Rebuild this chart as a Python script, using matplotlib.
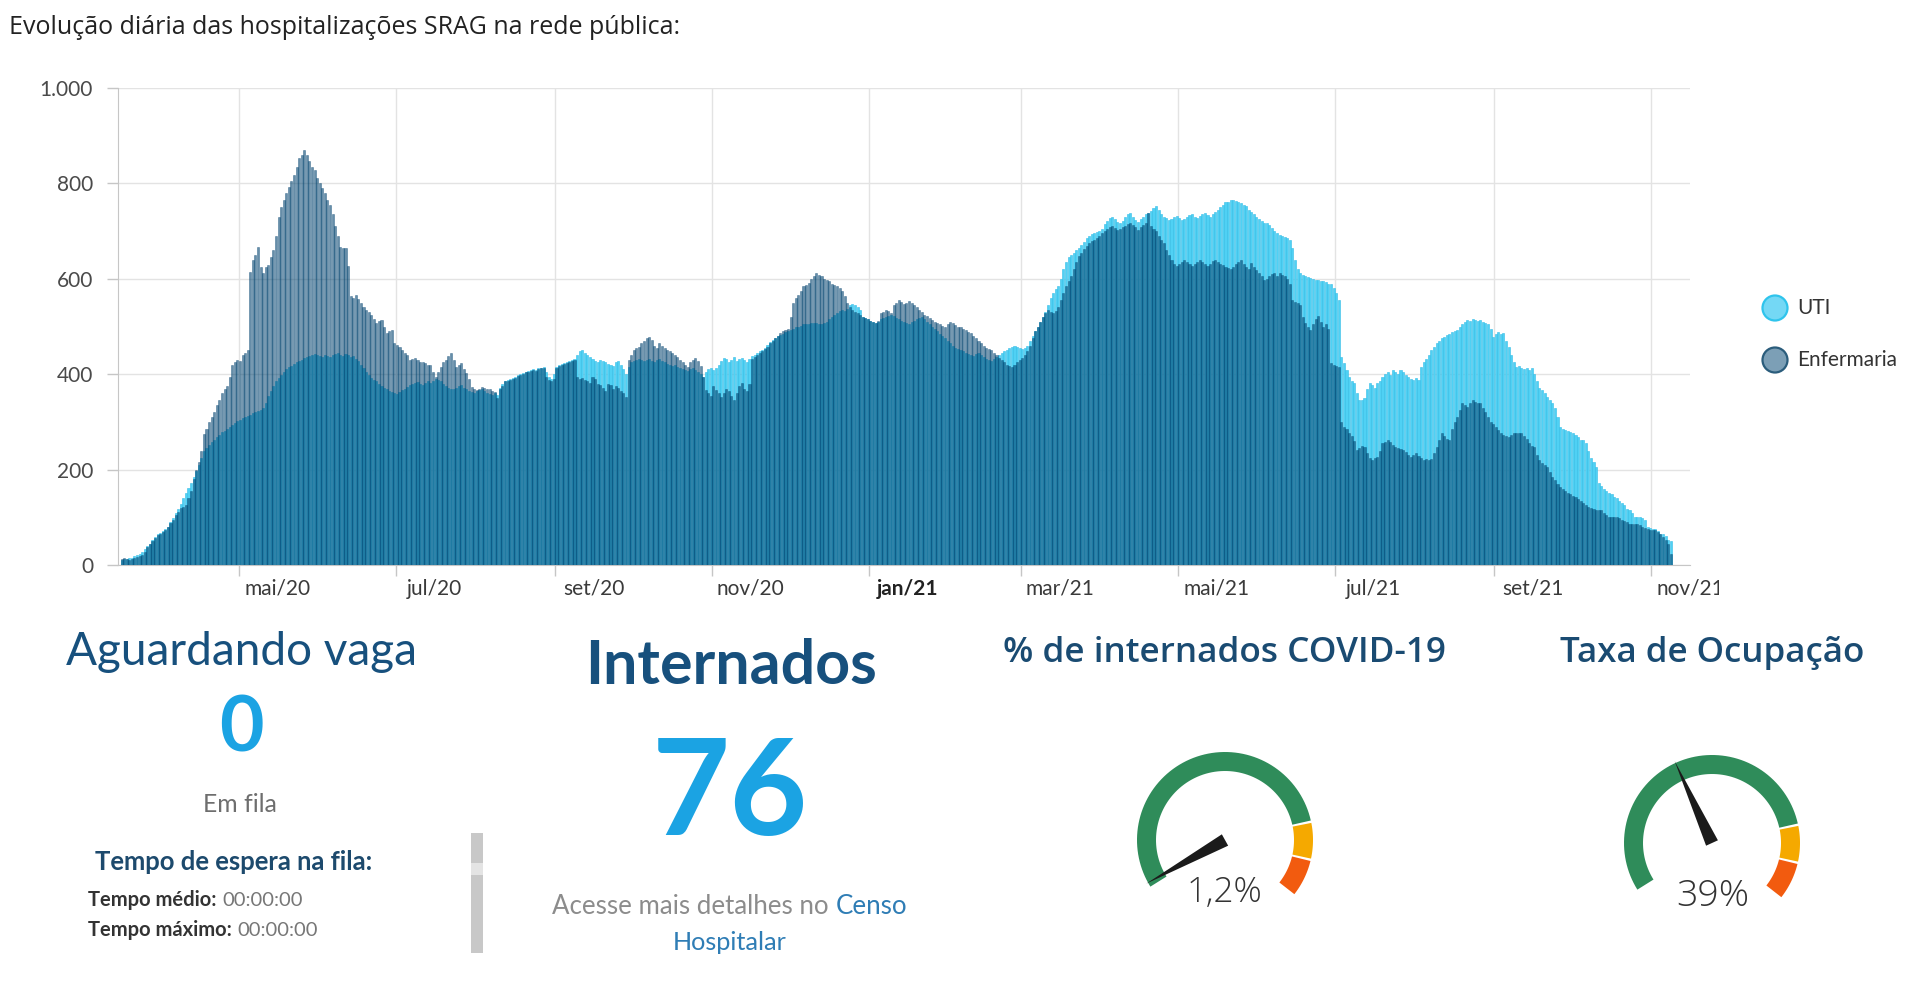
import numpy as np
import pandas as pd
import matplotlib
matplotlib.use("Agg")
import matplotlib.pyplot as plt
import matplotlib.dates as mdates
from matplotlib.patches import Polygon, Circle, Rectangle
from matplotlib.ticker import FixedLocator, FuncFormatter, NullFormatter

# daily beds in use, starting 2020-03-16
start_date = '2020-03-16'
uti = [
    10, 12, 12, 14, 15, 18, 20, 24, 28, 34,
    40, 45, 52, 58, 64, 68, 72, 76, 80, 90,
    98, 108, 118, 128, 140, 150, 162, 172, 185, 198,
    210, 225, 238, 246, 252, 258, 262, 268, 272, 278,
    280, 285, 290, 294, 298, 302, 305, 308, 310, 312,
    315, 318, 320, 322, 325, 330, 340, 355, 365, 375,
    385, 392, 398, 405, 410, 415, 418, 422, 425, 428,
    430, 433, 436, 438, 440, 442, 440, 438, 436, 440,
    438, 436, 440, 442, 445, 440, 438, 442, 440, 436,
    438, 432, 428, 420, 412, 405, 398, 392, 388, 385,
    380, 376, 372, 368, 365, 362, 360, 358, 362, 366,
    370, 374, 378, 380, 382, 384, 380, 378, 382, 385,
    382, 386, 390, 388, 385, 380, 376, 372, 370, 368,
    372, 375, 378, 372, 368, 365, 362, 360, 364, 366,
    368, 365, 360, 358, 356, 360, 356, 372, 380, 386,
    388, 390, 392, 395, 398, 400, 402, 405, 406, 408,
    410, 408, 412, 414, 416, 405, 395, 390, 400, 415,
    420, 422, 424, 425, 428, 430, 432, 440, 448, 450,
    445, 440, 436, 432, 428, 425, 430, 428, 425, 422,
    420, 418, 425, 428, 420, 410, 400, 415, 425, 428,
    430, 432, 430, 428, 430, 432, 428, 425, 430, 432,
    428, 425, 422, 420, 418, 420, 416, 412, 410, 408,
    406, 410, 412, 408, 405, 400, 395, 405, 410, 412,
    408, 412, 420, 428, 435, 432, 425, 430, 436, 428,
    432, 435, 430, 425, 432, 438, 440, 445, 448, 450,
    455, 462, 468, 472, 476, 480, 482, 485, 488, 490,
    492, 495, 498, 500, 502, 505, 506, 505, 507, 508,
    507, 505, 506, 508, 510, 515, 520, 525, 528, 532,
    534, 532, 536, 545, 548, 545, 540, 535, 520, 518,
    515, 512, 510, 508, 510, 515, 518, 520, 522, 525,
    522, 518, 515, 512, 510, 508, 506, 510, 512, 515,
    518, 520, 515, 510, 505, 500, 495, 490, 485, 480,
    475, 470, 465, 460, 455, 452, 450, 448, 445, 442,
    440, 438, 442, 445, 440, 436, 432, 430, 428, 432,
    436, 440, 445, 448, 450, 455, 458, 460, 458, 455,
    452, 455, 460, 470, 480, 490, 500, 510, 520, 530,
    545, 560, 570, 578, 585, 600, 620, 635, 645, 650,
    655, 660, 665, 670, 678, 685, 690, 694, 696, 698,
    700, 705, 715, 722, 728, 730, 725, 720, 718, 722,
    730, 735, 738, 730, 724, 720, 726, 730, 735, 738,
    742, 748, 752, 745, 735, 730, 728, 724, 726, 730,
    732, 728, 724, 726, 730, 734, 736, 730, 728, 732,
    735, 738, 734, 730, 735, 740, 745, 750, 755, 760,
    762, 765, 766, 764, 760, 758, 755, 752, 745, 740,
    735, 730, 726, 722, 718, 716, 712, 706, 700, 695,
    692, 690, 688, 685, 682, 665, 640, 620, 612, 608,
    605, 604, 602, 600, 598, 598, 596, 595, 594, 590,
    590, 580, 570, 556, 437, 423, 409, 395, 385, 381,
    360, 346, 346, 350, 370, 381, 378, 372, 381, 385,
    395, 400, 405, 398, 409, 405, 400, 409, 405, 398,
    395, 390, 388, 392, 388, 416, 425, 432, 440, 451,
    458, 465, 470, 475, 479, 482, 485, 488, 490, 493,
    500, 505, 510, 514, 512, 515, 514, 512, 514, 510,
    508, 505, 495, 479, 485, 488, 484, 486, 470, 458,
    440, 425, 416, 418, 412, 410, 414, 409, 412, 400,
    385, 372, 367, 360, 352, 345, 339, 330, 310, 290,
    285, 282, 280, 278, 276, 272, 268, 262, 262, 255,
    240, 225, 215, 206, 171, 165, 160, 155, 150, 148,
    143, 140, 135, 130, 125, 118, 115, 108, 101, 101,
    100, 98, 95, 80, 78, 76, 75, 72, 66, 64,
    60, 52, 50,
]
enfermaria = [
    12, 14, 12, 10, 12, 14, 16, 18, 22, 28,
    38, 44, 50, 56, 62, 66, 70, 74, 80, 88,
    95, 104, 112, 120, 122, 126, 140, 155, 180, 200,
    215, 240, 275, 285, 300, 310, 320, 335, 345, 360,
    368, 375, 395, 420, 425, 430, 428, 440, 445, 450,
    615, 640, 650, 667, 625, 612, 625, 629, 645, 660,
    690, 730, 750, 765, 780, 793, 805, 818, 835, 853,
    860, 870, 860, 846, 835, 828, 812, 800, 790, 779,
    765, 755, 735, 710, 690, 667, 665, 664, 626, 563,
    560, 566, 558, 549, 540, 535, 530, 524, 515, 507,
    512, 514, 500, 486, 490, 493, 465, 462, 458, 450,
    444, 440, 430, 432, 433, 430, 426, 425, 423, 420,
    419, 405, 395, 405, 416, 425, 430, 438, 444, 430,
    416, 420, 423, 410, 402, 390, 374, 370, 367, 370,
    374, 372, 370, 368, 365, 362, 350, 368, 375, 385,
    386, 388, 390, 392, 396, 398, 400, 404, 405, 406,
    408, 406, 410, 412, 414, 395, 388, 385, 390, 412,
    418, 420, 422, 424, 426, 428, 430, 395, 390, 392,
    388, 385, 382, 395, 390, 380, 378, 372, 365, 380,
    378, 370, 375, 372, 365, 360, 353, 430, 440, 450,
    455, 458, 465, 470, 475, 479, 472, 460, 455, 465,
    460, 455, 451, 448, 445, 440, 437, 430, 425, 420,
    416, 425, 430, 435, 428, 418, 395, 367, 360, 355,
    375, 367, 360, 353, 360, 370, 365, 355, 346, 360,
    375, 381, 370, 365, 380, 432, 436, 440, 445, 448,
    452, 458, 465, 470, 475, 480, 486, 490, 493, 495,
    520, 549, 560, 565, 575, 584, 588, 591, 600, 605,
    612, 608, 605, 600, 598, 595, 590, 588, 584, 580,
    575, 563, 550, 540, 535, 530, 528, 525, 520, 518,
    515, 512, 510, 508, 512, 528, 530, 535, 532, 528,
    545, 550, 556, 552, 548, 550, 554, 549, 545, 540,
    535, 530, 525, 521, 518, 514, 510, 508, 505, 502,
    500, 505, 510, 508, 504, 500, 498, 495, 492, 488,
    486, 480, 475, 470, 465, 460, 455, 452, 450, 445,
    440, 435, 430, 425, 420, 418, 416, 420, 425, 430,
    435, 440, 448, 460, 475, 490, 500, 510, 520, 528,
    535, 530, 528, 532, 540, 556, 570, 585, 595, 605,
    620, 635, 647, 655, 662, 668, 675, 680, 682, 685,
    690, 695, 700, 705, 708, 710, 706, 703, 705, 708,
    710, 715, 717, 712, 708, 703, 708, 712, 716, 738,
    710, 705, 700, 690, 682, 675, 661, 650, 640, 632,
    626, 630, 635, 640, 635, 630, 626, 630, 636, 640,
    635, 630, 626, 632, 638, 640, 635, 630, 628, 625,
    622, 620, 625, 630, 635, 640, 630, 625, 620, 633,
    625, 618, 612, 605, 598, 600, 605, 610, 612, 605,
    612, 608, 605, 600, 590, 556, 552, 549, 545, 520,
    507, 500, 493, 505, 515, 521, 510, 500, 505, 495,
    423, 420, 418, 416, 300, 290, 285, 276, 270, 260,
    241, 245, 250, 248, 235, 225, 220, 224, 227, 240,
    255, 258, 262, 258, 252, 248, 245, 243, 241, 236,
    230, 227, 230, 234, 228, 224, 220, 222, 220, 222,
    235, 248, 262, 276, 270, 265, 262, 285, 300, 311,
    325, 339, 336, 332, 340, 346, 342, 340, 339, 330,
    320, 311, 300, 295, 290, 282, 276, 272, 270, 269,
    272, 276, 276, 276, 276, 270, 265, 255, 250, 248,
    230, 220, 213, 210, 206, 195, 185, 178, 170, 164,
    160, 155, 150, 148, 145, 143, 138, 135, 129, 126,
    122, 120, 118, 115, 115, 115, 110, 105, 101, 101,
    101, 100, 98, 94, 92, 90, 87, 87, 87, 86,
    84, 80, 78, 76, 73, 73, 73, 70, 65, 59,
    52, 45, 24,
]

tick_months = ['2020-05-01', '2020-07-01', '2020-09-01', '2020-11-01', '2021-01-01',
               '2021-03-01', '2021-05-01', '2021-07-01', '2021-09-01', '2021-11-01']
tick_labels = ['mai/20', 'jul/20', 'set/20', 'nov/20', 'jan/21',
               'mar/21', 'mai/21', 'jul/21', 'set/21', 'nov/21']

aguardando = 0
internados = 76
gauge_values = [1.2, 39]
gauge_labels = ['1,2%', '39%']
band_limits = [0, 80, 90, 100]

W, H = 1920, 989
fig = plt.figure(figsize=(W / 100, H / 100), dpi=100)
fig.patch.set_facecolor('white')
renderer = fig.canvas.get_renderer()

SANS = ['Open Sans', 'DejaVu Sans']
GEO = ['Lato', 'DejaVu Sans']
NAVY = '#17507d'
BRIGHT = '#1ba3e3'

# ---- bar chart
n = min(len(uti), len(enfermaria))
days = mdates.date2num(pd.date_range(start_date, periods=n)) + 0.5

ax = fig.add_axes([118 / W, 1 - 565 / H, (1690 - 118) / W, 477 / H])
ax.bar(days, uti[:n], width=0.8, color='#4fd1f4', edgecolor='#36bde6',
       linewidth=0.4, zorder=2, label='UTI')
ax.bar(days, enfermaria[:n], width=0.8, color='#00426e', alpha=0.6,
       edgecolor='#00426e', linewidth=0.4, zorder=3, label='Enfermaria')

ax.set_ylim(0, 1000)
ax.set_xlim(mdates.date2num(pd.Timestamp('2020-03-15')) + 0.1,
            mdates.date2num(pd.Timestamp('2021-11-09')) + 0.5)
ax.set_yticks(np.arange(0, 1001, 200))
ax.yaxis.set_major_formatter(FuncFormatter(lambda v, p: f'{int(v):,}'.replace(',', '.')))

major = mdates.date2num(pd.to_datetime(tick_months))
ax.xaxis.set_major_locator(FixedLocator(major))
ax.xaxis.set_major_formatter(NullFormatter())
ax.set_xticks(major + 15, tick_labels, minor=True)

ax.tick_params(axis='x', which='major', length=8, width=1, color='#c6c6c6', direction='out')
ax.tick_params(axis='x', which='minor', length=0, pad=10, labelsize=15, labelcolor='#3a3a3a')
ax.tick_params(axis='y', length=8, width=1, color='#c6c6c6', pad=10, labelsize=15, labelcolor='#4a4a4a')
for lab in ax.get_xticklabels(minor=True) + ax.get_yticklabels():
    lab.set_family(GEO)
for lab in ax.get_xticklabels(minor=True):
    if lab.get_text() == 'jan/21':
        lab.set_fontweight('bold')
        lab.set_color('#222222')

ax.grid(True, which='major', color='#e3e3e3', linewidth=1, zorder=0)
ax.set_axisbelow(True)
for side in ['top', 'right']:
    ax.spines[side].set_visible(False)
for side in ['left', 'bottom']:
    ax.spines[side].set_color('#c6c6c6')

# ---- overlay in pixel coordinates
ov = fig.add_axes([0, 0, 1, 1], zorder=5)
ov.set_xlim(0, W)
ov.set_ylim(H, 0)
ov.set_axis_off()
ov.patch.set_alpha(0)

# the dashboard panel cuts the last month label
ov.add_patch(Rectangle((1719, 572), 60, 40, facecolor='white', edgecolor='none', zorder=10))


def put(x, y, s, width=None, ha='center', va='center', size=20, **kw):
    t = ov.text(x, y, s, ha=ha, va=va, fontsize=size, **kw)
    if width:
        bb = t.get_window_extent(renderer)
        t.set_fontsize(t.get_fontsize() * width / bb.width)
    return t


def put2(x, y, s1, s2, kw1, kw2, width, center=False):
    t1 = ov.text(0, y, s1, ha='left', va='center', fontsize=20, **kw1)
    t2 = ov.text(0, y, s2, ha='left', va='center', fontsize=20, **kw2)
    gap = 0.28 * 20 * 100 / 72
    w = t1.get_window_extent(renderer).width + t2.get_window_extent(renderer).width + gap
    k = width / w
    t1.set_fontsize(20 * k)
    t2.set_fontsize(20 * k)
    x0 = x - width / 2 if center else x
    t1.set_x(x0)
    t2.set_x(x0 + t1.get_window_extent(renderer).width + gap * k)


put(9, 28, 'Evolução diária das hospitalizações SRAG na rede pública:', width=670,
    ha='left', family=SANS, color='#222222')

# legend
leg = [('UTI', '#74d8f5', '#2fc4ec', 308), ('Enfermaria', '#7c9fb6', '#2b5d7c', 360)]
for name, fc, ec, ly in leg:
    ov.add_patch(Circle((1775, ly), 12.5, facecolor=fc, edgecolor=ec, linewidth=1.6))
    ov.text(1797, ly, name, ha='left', va='center', fontsize=15, family=GEO, color='#333333')

# aguardando vaga
put(242, 652, 'Aguardando vaga', width=351, family=GEO, color=NAVY)
put(241, 730, str(aguardando), width=45, family=GEO, fontweight='bold', color=BRIGHT)
put(240, 805, 'Em fila', width=74, family=GEO, color='#6e6e6e')
put(234, 862, 'Tempo de espera na fila:', width=278, family=GEO, fontweight='bold', color='#1d4a6d')
put2(88, 900, 'Tempo médio:', '00:00:00',
     dict(family=GEO, fontweight='bold', color='#333333'), dict(family=GEO, color='#777777'), 214)
put2(88, 930, 'Tempo máximo:', '00:00:00',
     dict(family=GEO, fontweight='bold', color='#333333'), dict(family=GEO, color='#777777'), 229)
ov.add_patch(Rectangle((471, 833), 12, 30, facecolor='#c8c8c8', edgecolor='none'))
ov.add_patch(Rectangle((471, 863), 12, 12, facecolor='#e4e4e4', edgecolor='none'))
ov.add_patch(Rectangle((471, 875), 12, 78, facecolor='#c8c8c8', edgecolor='none'))

# internados
put(731, 666, 'Internados', width=292, family=GEO, fontweight='bold', color=NAVY)
put(730, 796, str(internados), width=156, family=GEO, fontweight='bold', color=BRIGHT)
put2(729, 907, 'Acesse mais detalhes no', 'Censo',
     dict(family=GEO, color='#8c8c8c'), dict(family=GEO, color='#2f7db5'), 355, center=True)
put(730, 943, 'Hospitalar', width=114, family=GEO, color='#2f7db5')

# gauges
put(1224, 653, '% de internados COVID-19', width=443, family=SANS, fontweight='semibold', color='#1a4b72')
put(1712, 653, 'Taxa de Ocupação', width=303, family=SANS, fontweight='semibold', color='#1a4b72')

G_START, G_SPAN = 212, 250
R_OUT, R_IN = 88, 69
band_colors = ['#2f8c5a', '#f5a900', '#f25b0f']


def ang(v):
    return G_START - v / 100 * G_SPAN


def arc(cx, cy, a1, a2, color):
    a = np.radians(np.linspace(a1, a2, 80))
    outer = np.c_[cx + R_OUT * np.cos(a), cy - R_OUT * np.sin(a)]
    inner = np.c_[cx + R_IN * np.cos(a[::-1]), cy - R_IN * np.sin(a[::-1])]
    ov.add_patch(Polygon(np.vstack([outer, inner]), closed=True, facecolor=color, edgecolor='none'))


gauge_centers = [(1225, 840), (1712, 843)]
label_pos = [(1225, 893), (1713, 896)]
for (cx, cy), v, lab, (lx, ly) in zip(gauge_centers, gauge_values, gauge_labels, label_pos):
    for k in range(len(band_colors)):
        a1 = ang(band_limits[k]) - (0.8 if k > 0 else 0)
        a2 = ang(band_limits[k + 1]) + (0.8 if k < len(band_colors) - 1 else 0)
        arc(cx, cy, a1, a2, band_colors[k])
    a = np.radians(ang(v))
    tip = (cx + (R_OUT + 2) * np.cos(a), cy - (R_OUT + 2) * np.sin(a))
    p = np.array([-np.sin(a), -np.cos(a)]) * 6.5
    ov.add_patch(Polygon([tip, (cx + p[0], cy + p[1]), (cx - p[0], cy - p[1])],
                         closed=True, facecolor='#1b1b1b', edgecolor='none'))
    put(lx, ly, lab, width=76 if ',' in lab else 73, family=SANS, fontweight='light', color='#333333')

fig.savefig('out.png', dpi=100, facecolor='white')
